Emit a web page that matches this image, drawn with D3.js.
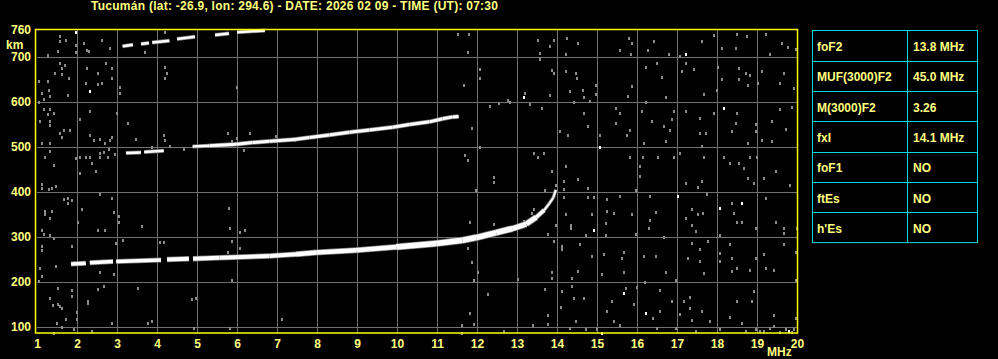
<!DOCTYPE html>
<html>
<head>
<meta charset="utf-8">
<script src="https://cdn.jsdelivr.net/npm/d3@7"></script>
<style>
  body { margin: 0; background: #000; }
  svg { display: block; }
  text { font-family: "Liberation Sans", Arial, sans-serif; font-weight: bold; }
</style>
</head>
<body>
<svg id="chart" width="998" height="359"></svg>
<script>
const title = "Tucumán (lat: -26.9, lon: 294.6) - DATE: 2026 02 09 - TIME (UT): 07:30"

const freqTicks = d3.range(1, 21)
const heightTicks = [100, 200, 300, 400, 500, 600, 700, 760]

const tableLabels = ["foF2", "MUF(3000)F2", "M(3000)F2", "fxI", "foF1", "ftEs", "h'Es"]
const tableValues = ["13.8 MHz", "45.0 MHz", "3.26", "14.1 MHz", "NO", "NO", "NO"]

// first hop F trace (MHz, km), null = gap
const traceF1 = [[1.85, 240], [2.22, 242], null, [2.32, 243], [2.9, 246], null, [2.98, 246], [4.1, 249], null,
  [4.25, 250], [4.8, 252], null, [4.9, 252], [5.56, 254], [6.81, 258], [7.475, 262], [7.98, 266], [8.98, 271],
  [9.98, 278], [10.98, 286], [11.64, 293], [11.98, 299], [12.48, 310], [12.89, 319], [13.23, 329], [13.48, 344],
  [13.68, 360], [13.81, 375], [13.91, 388], [13.97, 405]]

// second hop
const traceF2 = [[3.225, 487], [3.6, 488], null, [3.68, 489], [4.17, 492], null, [4.89, 501], [5.31, 503],
  [5.98, 506], [6.39, 510], [6.81, 513], [7.43, 517], [7.81, 521], [8.31, 527], [8.81, 533], [9.31, 538],
  [9.89, 544], [10.31, 550], [10.81, 556], [11.14, 563], [11.39, 567], [11.54, 568]]

// third hop
const traceF3 = [[3.14, 724], [3.4, 727], null, [3.6, 729], [3.8, 731], null, [3.88, 732], [4.31, 736], null,
  [4.5, 740], [4.95, 745], null, [5.45, 749], [5.8, 752], null, [6.0, 755], [6.7, 759]]

// scattered echoes
const noise = [
  [1.54,749],[1.54,738],[1.71,739],[1.96,730],[2.14,734],[2.27,716],[2.23,717],[1.96,714],[1.25,707],[1.5,716],
  [2.6,739],[2.81,723],[3.68,714],[4.18,758],[1.56,690],[1.68,684],[1.6,677],[1.43,667],[1.6,665],[1.77,655],
  [2.23,677],[2.49,667],[2.7,690],[2.85,677],[2.85,655],[2.21,645],[2.49,643],[2.6,645],[3.04,636],[3.04,623],
  [1.25,649],[1.27,630],[1.1,623],[1.29,616],[1.74,618],[1.14,610],[1.02,603],[4.18,680],[4.23,667],[4.18,655],
  [5.98,636],[1.02,649],[1.14,586],[1.29,586],[1.39,578],[1.25,575],[1.29,561],[1.29,551],[1.04,560],[2.06,565],
  [2.29,582],[2.98,578],[3.24,556],[1.64,539],[1.81,539],[1.54,534],[1.6,524],[1.1,512],[1.29,512],[2.29,529],
  [2.41,519],[2.56,521],[2.68,512],[2.81,519],[2.85,524],[3.45,521],[4.14,529],[4.18,517],[4.31,504],[3.85,502],
  [6.31,534],[5.74,534],[5.98,523],[5.85,516],[6.14,495],[6.96,527],[7.43,519],[1.29,493],[1.18,480],[1.96,477],
  [2.04,480],[2.21,480],[2.31,480],[2.54,490],[2.64,492],[2.56,480],[2.74,480],[2.93,486],[2.77,499],[2.35,467],
  [2.04,445],[2.46,449],[1.39,462],[1.1,421],[1.1,412],[1.27,408],[1.35,412],[1.45,416],[4.64,497],[1.64,387],
  [1.75,390],[1.85,384],[1.74,379],[1.18,360],[1.18,353],[1.35,360],[1.29,345],[2.1,365],[2.54,397],[2.85,390],
  [2.91,358],[3.02,349],[3.02,336],[1.99,336],[1.1,317],[1.14,310],[1.29,308],[1.39,301],[2.5,317],[2.68,317],
  [3.6,327],[5.77,367],[5.79,323],[6.04,314],[6.18,317],[1.1,282],[1.1,273],[1.85,282],[2.96,290],[3.12,295],
  [4.06,292],[4.16,292],[5.85,293],[6.06,279],[5.74,270],[1.04,233],[1.1,216],[1.02,204],[1.46,238],[2.56,225],
  [2.91,221],[5.85,208],[1.49,190],[1.85,184],[1.85,171],[1.29,167],[1.37,151],[1.49,154],[1.56,149],[1.6,144],
  [1.98,136],[1.98,121],[1.71,121],[1.48,112],[1.6,102],[1.39,90],[1.89,97],[2.24,161],[2.24,156],[2.49,186],
  [2.64,193],[2.35,93],[2.85,112],[3.49,190],[3.74,112],[3.85,116],[4.85,164],[4.96,167],[4.89,101],[5.79,101],
  [7.1,121],
  [11.5,753],[11.77,754],[11.74,714],[12.04,675],[12.04,655],[11.64,640],[11.85,544],[12.04,502],[11.68,484],
  [11.74,473],[12.39,436],[12.39,425],[11.96,407],[11.81,336],[12.39,332],[11.74,279],[11.85,247],[11.99,225],
  [11.89,206],[12.24,176],[11.79,134],[11.89,110],[11.6,108],[11.6,90],[12.64,93],[12.99,210],[13.38,108],
  [13.74,129],[13.74,110],[13.68,186],[13.85,225],[13.85,212],[13.89,293],[13.74,310],[13.94,329],[13.94,418],
  [13.68,406],[13.85,449],[13.39,490],[13.64,490],[13.49,480],[13.6,588],[13.79,618],[13.89,667],[13.85,673],
  [13.31,598],[13.18,623],[12.81,603],[12.74,606],[12.52,601],[12.29,593],[13.49,741],[13.54,712],[13.54,697],
  [13.81,727],[13.89,739],[13.39,364],[13.35,356],[13.14,339],[13.04,332],
  [14.23,745],[14.5,734],[14.2,710],[15.77,745],[15.85,734],[15.55,717],[15.83,710],[16.25,717],[16.4,738],
  [16.77,710],[17.05,704],[17.6,738],[17.9,751],[18.1,723],[18.48,754],[18.73,749],[18.46,723],[19.21,754],
  [19.6,734],[19.76,724],[19.3,710],[19.94,719],[14.19,671],[14.46,667],[14.48,656],[14.31,627],[14.63,630],
  [14.65,613],[14.4,603],[14.96,641],[14.96,619],[14.81,604],[15.86,638],[15.75,616],[16.2,680],[16.6,658],
  [16.69,613],[16.2,603],[17.4,675],[17.1,671],[17.2,690],[18.0,680],[18.1,653],[18.52,678],[18.69,667],
  [18.8,662],[18.52,653],[18.75,641],[19.0,645],[19.1,671],[19.65,667],[19.55,645],[19.9,633],[17.65,619],
  [17.98,630],[16.48,690],[15.55,578],[15.44,590],[14.65,578],[14.25,530],[14.05,538],[14.76,549],[15.05,529],
  [15.46,556],[15.8,539],[15.73,529],[16.1,582],[16.36,560],[16.65,549],[16.8,539],[16.9,582],[16.86,564],
  [16.69,516],[16.15,512],[17.19,582],[17.55,566],[17.56,534],[17.69,534],[17.9,578],[17.6,505],[18.48,578],
  [18.36,538],[18.44,556],[18.96,553],[18.96,538],[18.75,512],[19.09,519],[19.35,560],[19.56,586],[19.7,542],
  [19.35,516],[19.85,591],[14.2,460],[14.5,432],[14.15,427],[14.76,412],[15.8,480],[16.05,460],[16.05,438],
  [15.95,406],[16.12,480],[16.5,480],[16.9,480],[17.06,490],[17.19,423],[17.5,413],[17.6,427],[17.65,480],
  [18.15,480],[18.31,467],[18.52,467],[18.65,455],[18.81,480],[18.75,434],[18.9,423],[18.98,480],[19.15,434],
  [19.46,449],[19.81,419],[14.15,408],[14.15,392],[14.76,391],[14.9,391],[15.23,360],[15.23,386],[15.4,356],
  [14.86,354],[14.19,354],[14.33,323],[14.33,330],[14.71,307],[15.21,334],[15.21,308],[15.86,353],[15.55,393],
  [15.96,310],[16.3,393],[16.46,358],[16.3,341],[16.27,323],[16.66,302],[17.36,364],[17.51,353],[17.63,356],
  [17.36,330],[17.46,316],[17.19,345],[17.73,397],[18.04,308],[18.36,379],[18.4,356],[18.48,336],[18.61,336],
  [18.96,323],[19.19,390],[19.46,336],[19.65,323],[19.65,312],[19.98,323],[14.1,282],[14.1,275],[14.55,287],
  [14.86,260],[15.15,265],[15.65,270],[15.61,255],[15.1,221],[15.65,225],[14.5,228],[14.36,212],[16.16,260],
  [16.46,260],[16.69,225],[16.94,208],[16.17,203],[17.36,290],[17.56,275],[17.56,249],[17.25,256],[17.65,223],
  [17.76,293],[18.06,267],[18.06,249],[18.3,287],[18.36,255],[18.36,228],[18.48,233],[18.81,230],[18.94,256],
  [19.15,265],[19.21,234],[19.41,230],[19.65,287],[19.96,270],[19.96,206],[14.1,182],[14.08,147],[14.36,193],
  [14.41,167],[14.65,167],[14.44,116],[14.31,101],[14.71,97],[14.98,97],[15.36,161],[15.23,139],[15.71,190],
  [15.91,154],[15.98,191],[15.41,116],[15.56,107],[16.38,123],[16.48,101],[16.56,184],[16.55,139],[16.86,161],
  [16.94,101],[17.05,132],[17.15,161],[17.3,169],[17.31,145],[17.36,117],[17.61,138],[17.8,116],[18.06,97],
  [18.31,125],[18.48,161],[18.9,182],[18.86,160],[18.61,112],[18.96,97],[19.15,93],[19.3,101],[19.4,105],
  [19.41,130],[19.71,97],[19.91,97],[19.96,123],[19.05,93],[19.55,92],[19.85,92],[18.7,93],[17.45,93]
]
const noiseWhite = [[1.96,758],[2.29,627],[15.05,502],[14.9,317],[16.99,393],[18.05,367],[18.61,379],
  [18.15,588],[17.2,710],[15.1,90],[15.65,178],[16.21,134],[19.77,93],[13.14,613]]

const svg = d3.select("#chart")

const x = d3.scaleLinear().domain([1, 20]).range([37, 797])
const y = d3.scaleLinear().domain([87, 760]).range([333, 30])

const textColor = "#ffff80"
const gridColor = "#707070"

svg.append("text")
  .attr("x", 91)
  .attr("y", 10)
  .attr("fill", textColor)
  .attr("textLength", 407)
  .attr("lengthAdjust", "spacing")
  .style("font-size", "12px")
  .text(title)

// grid
svg.append("g")
  .selectAll("line")
  .data(freqTicks.filter(f => f > 1 && f < 20))
  .join("line")
  .attr("x1", d => Math.round(x(d)) + 0.5)
  .attr("x2", d => Math.round(x(d)) + 0.5)
  .attr("y1", y(760))
  .attr("y2", y(87))
  .attr("stroke", gridColor)

svg.append("g")
  .selectAll("line")
  .data(heightTicks.filter(h => h < 760))
  .join("line")
  .attr("y1", d => Math.round(y(d)) + 0.5)
  .attr("y2", d => Math.round(y(d)) + 0.5)
  .attr("x1", x(1))
  .attr("x2", x(20))
  .attr("stroke", gridColor)

// noise
svg.append("g")
  .attr("fill", "#8c8c8c")
  .selectAll("rect")
  .data(noise)
  .join("rect")
  .attr("x", d => Math.round(x(d[0])))
  .attr("y", d => Math.round(y(d[1])))
  .attr("width", 2)
  .attr("height", 3)

svg.append("g")
  .attr("fill", "#fff")
  .selectAll("rect")
  .data(noiseWhite)
  .join("rect")
  .attr("x", d => Math.round(x(d[0])))
  .attr("y", d => Math.round(y(d[1])))
  .attr("width", 2)
  .attr("height", 3)

// traces, drawn as segments so the echo can thicken with frequency
function segments(trace) {
  const out = []
  for (let i = 0; i < trace.length - 1; i++) {
    if (trace[i] && trace[i + 1]) out.push([trace[i], trace[i + 1]])
  }
  return out
}

function drawTrace(trace, widthFn) {
  const g = svg.append("g").attr("stroke-linecap", "butt")
  const segs = segments(trace)
  g.selectAll(".halo")
    .data(segs)
    .join("line")
    .attr("class", "halo")
    .attr("x1", d => x(d[0][0])).attr("y1", d => y(d[0][1]))
    .attr("x2", d => x(d[1][0])).attr("y2", d => y(d[1][1]))
    .attr("stroke", "#7c7c7c")
    .attr("stroke-width", d => widthFn(d[0][0]) + 1.5)
  g.selectAll(".core")
    .data(segs)
    .join("line")
    .attr("class", "core")
    .attr("x1", d => x(d[0][0])).attr("y1", d => y(d[0][1]))
    .attr("x2", d => x(d[1][0])).attr("y2", d => y(d[1][1]))
    .attr("stroke", "#fff")
    .attr("stroke-width", d => widthFn(d[0][0]))
}

drawTrace(traceF1, f => f < 3 ? 3.5 : f < 7 ? 4 : f < 9 ? 4.5 : f < 12.8 ? 5.5 : f < 13.3 ? 5 : f < 13.6 ? 3.5 : 2)
drawTrace(traceF2, f => f < 5 ? 2.5 : 3)
drawTrace(traceF3, f => 2.5)

// frame
svg.append("rect")
  .attr("x", 35.5)
  .attr("y", 29.5)
  .attr("width", 762)
  .attr("height", 303.5)
  .attr("fill", "none")
  .attr("stroke", "#ffff00")
  .attr("stroke-width", 1.5)

// axes
const yAxis = svg.append("g")
  .attr("transform", "translate(36,0)")
  .call(d3.axisLeft(y).tickValues(heightTicks).tickSize(0).tickPadding(5))
yAxis.select(".domain").remove()
yAxis.selectAll("text")
  .attr("fill", textColor)
  .style("font-size", "12px")
  .style("font-family", "'Liberation Sans', Arial, sans-serif")
  .style("font-weight", "bold")

const xAxis = svg.append("g")
  .attr("transform", "translate(0,333)")
  .call(d3.axisBottom(x).tickValues(freqTicks).tickSize(0).tickPadding(6.5))
xAxis.select(".domain").remove()
xAxis.selectAll("text")
  .attr("fill", textColor)
  .style("font-size", "12px")
  .style("font-family", "'Liberation Sans', Arial, sans-serif")
  .style("font-weight", "bold")

svg.append("text")
  .attr("x", 6).attr("y", 49)
  .attr("fill", textColor)
  .style("font-size", "12px")
  .text("km")

svg.append("text")
  .attr("x", 767).attr("y", 356)
  .attr("fill", textColor)
  .style("font-size", "12px")
  .text("MHz")

// parameter table
const tableX = 812.5, colX = 907.5, tableRight = 977.5
const rowTop = 30.5, rowH = 30.3

const table = svg.append("g")
table.append("rect")
  .attr("x", tableX).attr("y", rowTop)
  .attr("width", tableRight - tableX)
  .attr("height", rowH * tableLabels.length)
  .attr("fill", "none")
  .attr("stroke", "#00dcdc")

table.selectAll(".rowline")
  .data(d3.range(1, tableLabels.length))
  .join("line")
  .attr("x1", tableX).attr("x2", tableRight)
  .attr("y1", i => Math.round(rowTop + i * rowH) + 0.5)
  .attr("y2", i => Math.round(rowTop + i * rowH) + 0.5)
  .attr("stroke", "#00dcdc")

table.append("line")
  .attr("x1", colX).attr("x2", colX)
  .attr("y1", rowTop).attr("y2", rowTop + rowH * tableLabels.length)
  .attr("stroke", "#00dcdc")

table.selectAll(".label")
  .data(tableLabels)
  .join("text")
  .attr("x", 817)
  .attr("y", (d, i) => rowTop + i * rowH + 20.5)
  .attr("fill", textColor)
  .style("font-size", "12px")
  .text(d => d)

table.selectAll(".value")
  .data(tableValues)
  .join("text")
  .attr("x", 913)
  .attr("y", (d, i) => rowTop + i * rowH + 20.5)
  .attr("fill", textColor)
  .style("font-size", "12px")
  .text(d => d)
</script>
</body>
</html>
